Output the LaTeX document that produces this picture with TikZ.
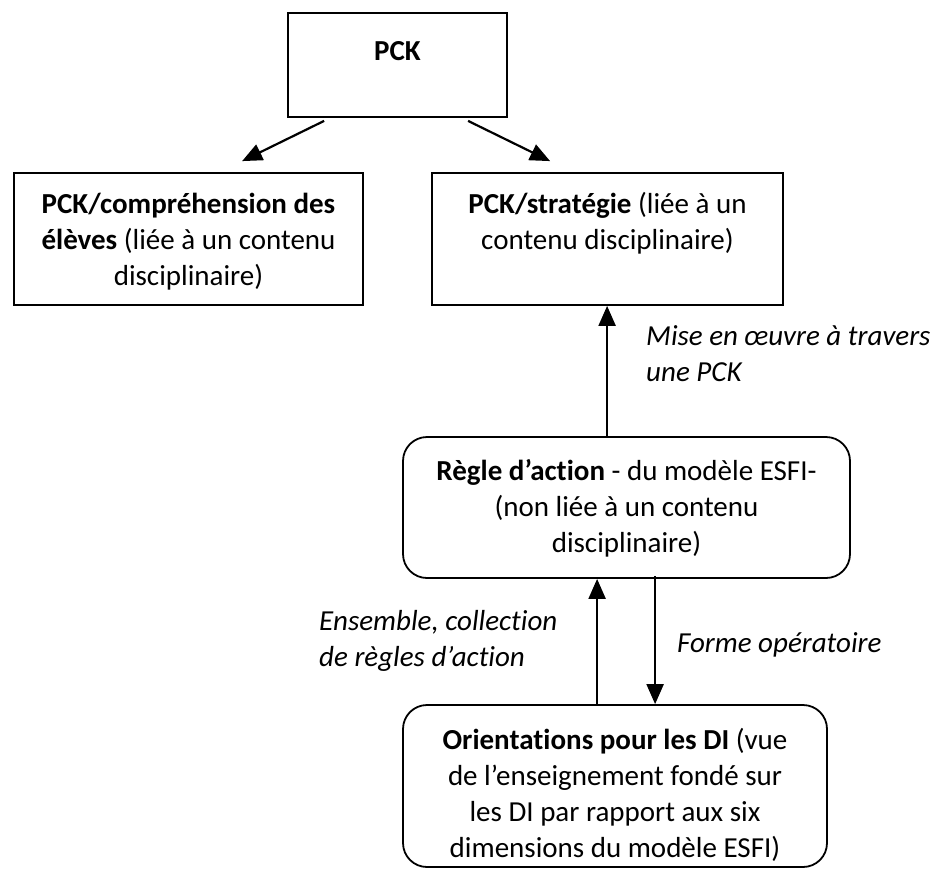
\documentclass[tikz,border=0pt]{standalone}
\usepackage{fontspec}
\setmainfont[Ligatures=NoCommon]{Carlito}
\usetikzlibrary{arrows.meta,calc}
\newcommand{\fst}{\rule{0pt}{22pt}}
\begin{document}
\begin{tikzpicture}[x=1pt,y=-1pt,
  box/.style={draw=black,line width=1.8pt,inner sep=0pt},
  rbox/.style={box,rounded corners=24pt},
  txt/.style={inner sep=0pt,anchor=north,align=center,font=\fontsize{29}{36}\selectfont},
  ltxt/.style={txt,align=left,anchor=north west,font=\fontsize{29}{36}\selectfont\itshape},
  arr/.style={line width=2.2pt,-{Triangle[length=20pt,width=17pt]}}]
\useasboundingbox (0,0) rectangle (936,871);
% boxes
\node[box,minimum width=219pt,minimum height=104pt] (pck) at (397.5,65) {};
\node[box,minimum width=349pt,minimum height=132pt] (left) at (188.5,239) {};
\node[box,minimum width=351pt,minimum height=132pt] (right) at (607.5,239) {};
\node[rbox,minimum width=447pt,minimum height=141pt] (r1) at (626.5,507.5) {};
\node[rbox,minimum width=424pt,minimum height=162pt] (r2) at (615,786) {};
% texts
\node[txt] (tpck) at (397.5,38) {\fst\textbf{PCK}};
\node[txt] (tleft) at (188.5,191) {\fst\textbf{PCK/compréhension des}\\\textbf{élèves} (liée à un contenu\\disciplinaire)};
\node[txt] (tright) at (607.5,191) {\fst\textbf{PCK/stratégie} (liée à un\\contenu disciplinaire)};
\node[txt] (tr1) at (626.5,458) {\fst\textbf{Règle d’action} - du modèle ESFI-\\(non liée à un contenu\\disciplinaire)};
\node[txt] (tr2) at (615,727) {\fst\textbf{Orientations pour les DI} (vue\\de l’enseignement fondé sur\\les DI par rapport aux six\\dimensions du modèle ESFI)};
\node[ltxt] (lmise) at (646,323) {\fst Mise en œuvre à travers\\une PCK};
\node[ltxt] (lens) at (319,608) {\fst Ensemble, collection\\de règles d’action};
\node[ltxt] (lforme) at (677,630) {\fst Forme opératoire};
% connector ends
\coordinate (a1s) at ($(pck.south west)+(37,3)$);
\coordinate (a1e) at ($(left.north west)+(229,-11)$);
\coordinate (a2s) at ($(pck.south west)+(181,3)$);
\coordinate (a2e) at ($(right.north west)+(119,-11)$);
\coordinate (a3x) at ($(r1.north west)+(205,0)$);
\coordinate (a4x) at ($(r1.south west)+(195,0)$);
\coordinate (a5x) at ($(r1.south west)+(253,-3)$);
% connectors
\draw[arr] (a1s) -- (a1e);
\draw[arr] (a2s) -- (a2e);
\draw[arr] (a3x) -- (a3x |- right.south);
\draw[arr] (a4x |- r2.north) -- (a4x);
\draw[arr] (a5x) -- (a5x |- r2.north);
\end{tikzpicture}
\end{document}
